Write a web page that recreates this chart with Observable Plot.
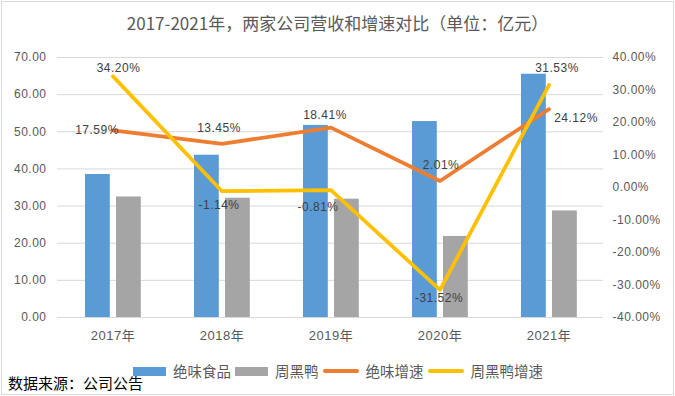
<!DOCTYPE html>
<html>
<head>
<meta charset="utf-8">
<script src="https://cdn.jsdelivr.net/npm/d3@7"></script>
<script src="https://cdn.jsdelivr.net/npm/@observablehq/plot@0.6"></script>
<style>
  html, body { margin: 0; padding: 0; background: #fff; }
  #wrap { position: relative; width: 675px; height: 396px; overflow: hidden; background: #fff;
          font-family: "Noto Sans CJK SC", "Liberation Sans", sans-serif; }
  #frame { position: absolute; left: 1px; top: 1px; width: 673px; height: 394px;
           border: 1px solid #d9d9d9; box-sizing: border-box; pointer-events: none; }
  #title { position: absolute; left: 0; top: 12px; width: 675px; text-align: center;
           font-size: 17px; line-height: 22px; color: #595959; }
  #chart { position: absolute; left: 0; top: 0; }
  #chart svg { letter-spacing: 0.5px; }
  #legend { position: absolute; left: 133px; top: 361px; height: 20px; display: flex; align-items: center;
            font-size: 14.5px; color: #595959; white-space: nowrap; }
  #legend .sw { width: 33px; height: 9px; margin-right: 7px; }
  #legend .ln { width: 36px; height: 4px; border-radius: 2px; margin-right: 7px; }
  #legend .lb { margin-right: 4px; line-height: 20px; }
  #caption { position: absolute; left: 8px; top: 374px; font-size: 15px; line-height: 18px; color: #000; }
</style>
</head>
<body>
<div id="wrap">
  <div id="title">2017-2021年，两家公司营收和增速对比（单位：亿元）</div>
  <div id="chart"></div>
  <div id="legend"></div>
  <div id="caption">数据来源：公司公告</div>
  <div id="frame"></div>
</div>
<script>
// ---- data ----
const years = ["2017年", "2018年", "2019年", "2020年", "2021年"];
const jueweiRevenue = [38.50, 43.69, 51.72, 52.76, 65.49];
const zhouheiyaRevenue = [32.45, 32.12, 31.86, 21.82, 28.70];
const jueweiGrowth = [17.59, 13.45, 18.41, 2.01, 24.12];
const zhouheiyaGrowth = [34.20, -1.14, -0.81, -31.52, 31.53];
const leftTicks = [0, 10, 20, 30, 40, 50, 60, 70];
const rightTicks = [-40, -30, -20, -10, 0, 10, 20, 30, 40];
const seriesNames = ["绝味食品", "周黑鸭", "绝味增速", "周黑鸭增速"];

// ---- layout / style (not data) ----
const colors = ["#5B9BD5", "#A5A5A5", "#ED7D31", "#FFC000"];
const jLabelOffset = [[-16, 0], [-3, -16], [-6, -13], [1, -15.5], [27, 9]];
const zLabelOffset = [[5.5, -8], [-3, 14], [-13, 17], [-1, 8], [8, -16.5]];

const leftMax = 70, pctMin = -40, pctMax = 40;
const toLeft = p => (p - pctMin) * leftMax / (pctMax - pctMin);
const fromLeft = v => v * (pctMax - pctMin) / leftMax + pctMin;

const rows = years.map((y, i) => ({
  year: y, jr: jueweiRevenue[i], zr: zhouheiyaRevenue[i], jg: jueweiGrowth[i], zg: zhouheiyaGrowth[i]
}));

const labelMarks = [];
rows.forEach((r, i) => {
  labelMarks.push(Plot.text([r], {
    x: "year", y: d => toLeft(d.jg), text: d => d.jg.toFixed(2) + "%",
    dx: jLabelOffset[i][0], dy: jLabelOffset[i][1], fill: "#404040", fontSize: 12
  }));
  labelMarks.push(Plot.text([r], {
    x: "year", y: d => toLeft(d.zg), text: d => d.zg.toFixed(2) + "%",
    dx: zLabelOffset[i][0], dy: zLabelOffset[i][1], fill: "#404040", fontSize: 12
  }));
});

const chart = Plot.plot({
  width: 675,
  height: 396,
  marginTop: 57,
  marginBottom: 79,
  marginLeft: 57,
  marginRight: 72,
  style: { fontFamily: '"Liberation Sans", "Noto Sans CJK SC", sans-serif', background: "transparent", overflow: "visible" },
  x: { type: "band", domain: years, padding: 0, axis: null, label: null },
  y: { domain: [0, leftMax], axis: null, label: null },
  marks: [
    Plot.gridY(leftTicks, { stroke: "#d9d9d9", strokeOpacity: 1, strokeWidth: 1 }),
    Plot.axisY(leftTicks, { anchor: "left", tickSize: 0, tickPadding: 11, color: "#595959", fontSize: 12,
                            label: null, tickFormat: d => d.toFixed(2) }),
    Plot.axisY(rightTicks.map(toLeft), { anchor: "right", tickSize: 0, tickPadding: 9, color: "#595959", fontSize: 12,
                            label: null, tickFormat: v => Math.round(fromLeft(v)).toFixed(2) + "%" }),
    Plot.axisX(years, { anchor: "bottom", tickSize: 0, tickPadding: 13, color: "#595959", fontSize: 13, label: null }),
    Plot.barY(rows, { x: "year", y: "jr", fill: colors[0], insetLeft: 27, insetRight: 57.2 }),
    Plot.barY(rows, { x: "year", y: "zr", fill: colors[1], insetLeft: 58, insetRight: 26.2 }),
    Plot.line(rows, { x: "year", y: d => toLeft(d.jg), stroke: colors[2], strokeWidth: 3.75,
                      strokeLinejoin: "round", strokeLinecap: "round" }),
    Plot.line(rows, { x: "year", y: d => toLeft(d.zg), stroke: colors[3], strokeWidth: 3.75,
                      strokeLinejoin: "round", strokeLinecap: "round" }),
    ...labelMarks
  ]
});
document.getElementById("chart").appendChild(chart);

// legend
const legend = document.getElementById("legend");
seriesNames.forEach((name, i) => {
  const sw = document.createElement("div");
  sw.className = i < 2 ? "sw" : "ln";
  sw.style.background = colors[i];
  const lb = document.createElement("span");
  lb.className = "lb";
  lb.textContent = name;
  legend.appendChild(sw);
  legend.appendChild(lb);
});
</script>
</body>
</html>
